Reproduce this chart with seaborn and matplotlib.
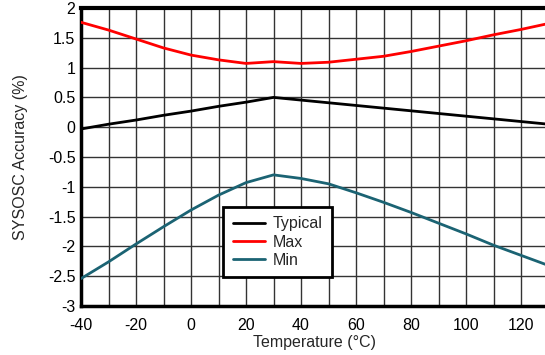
import matplotlib
matplotlib.use("Agg")
import matplotlib.pyplot as plt
import seaborn as sns
import pandas as pd

# temperature points (deg C) and accuracy readings (%)
temps = [-40, -30, -20, -10, 0, 10, 20, 30, 40, 50, 60, 70, 80, 90, 100, 110, 120, 130]
typical = [-0.03, 0.05, 0.12, 0.20, 0.27, 0.35, 0.42, 0.50, 0.455, 0.41, 0.365, 0.32, 0.275, 0.23, 0.185, 0.14, 0.095, 0.05]
max_acc = [1.76, 1.63, 1.48, 1.33, 1.21, 1.13, 1.07, 1.10, 1.07, 1.09, 1.14, 1.19, 1.27, 1.36, 1.45, 1.55, 1.64, 1.74]
min_acc = [-2.54, -2.26, -1.96, -1.67, -1.39, -1.14, -0.93, -0.80, -0.86, -0.95, -1.10, -1.26, -1.43, -1.61, -1.79, -1.98, -2.15, -2.32]

series = ["Typical", "Max", "Min"]
colors = ["#000000", "#ff0000", "#1b6373"]

df = pd.concat([
    pd.DataFrame({"temp": temps, "acc": vals, "curve": name})
    for name, vals in zip(series, [typical, max_acc, min_acc])
])

sns.set_theme(style="white")
plt.rcParams['font.family'] = ['Liberation Sans', 'DejaVu Sans']
plt.rcParams['axes.unicode_minus'] = False

fig = plt.figure(figsize=(5.45, 3.55), dpi=100)
ax = fig.add_axes([81 / 545, 49 / 355, 467.5 / 545, 298 / 355])

sns.lineplot(data=df, x="temp", y="acc", hue="curve", palette=colors,
             hue_order=series, linewidth=2, ax=ax, zorder=3)

ax.set_xlim(-40, 130)
ax.set_ylim(-3, 2)
ax.set_xticks(range(-40, 121, 20))
ax.set_xticks(range(-30, 131, 20), minor=True)
ax.set_yticks([-3, -2.5, -2, -1.5, -1, -0.5, 0, 0.5, 1, 1.5, 2])
ax.set_yticklabels(["-3", "-2.5", "-2", "-1.5", "-1", "-0.5", "0", "0.5", "1", "1.5", "2"])
ax.grid(True, which="both", color="#333333", linewidth=1)
ax.tick_params(which="both", length=0, labelsize=11.5, colors="black")
ax.tick_params(axis="x", pad=9)
ax.tick_params(axis="y", pad=4)

for side, lw in [("top", 3), ("left", 2.5), ("bottom", 2.5), ("right", 2.5)]:
    ax.spines[side].set_color("black")
    ax.spines[side].set_linewidth(lw)

ax.set_xlabel("Temperature (°C)", fontsize=11.5, labelpad=1)
ax.set_ylabel("SYSOSC Accuracy (%)", fontsize=11.5, labelpad=14)

leg = ax.legend(loc="upper left", bbox_to_anchor=(0.304, 0.333), borderaxespad=0,
                fontsize=11.5, fancybox=False, framealpha=1, handlelength=2.0,
                labelspacing=0.2, borderpad=0.6, handletextpad=0.5)
leg.get_frame().set_edgecolor("black")
leg.get_frame().set_linewidth(2)
leg.set_zorder(5)

fig.savefig("out.png", dpi=100)
